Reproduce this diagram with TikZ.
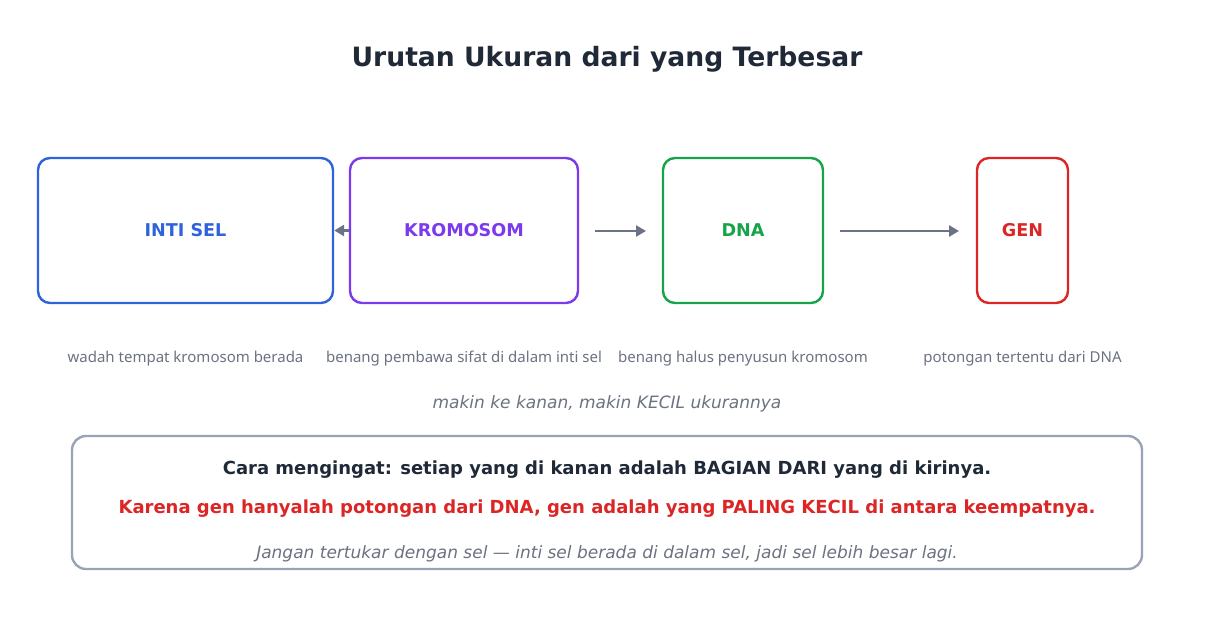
\documentclass[tikz,border=0pt]{standalone}
\usepackage{fontspec}
\setmainfont{DejaVu Sans}
\newfontfamily\capfont{Noto Sans}
\usetikzlibrary{arrows.meta}
\definecolor{cblue}{HTML}{2F63D9}
\definecolor{cpurple}{HTML}{7C3AED}
\definecolor{cgreen}{HTML}{16A34A}
\definecolor{cred}{HTML}{DC2626}
\definecolor{carrow}{HTML}{6B7285}
\definecolor{ctext}{HTML}{6B7280}
\definecolor{cdark}{HTML}{1F2937}
\definecolor{cborder}{HTML}{9AA3B5}
\tikzset{
  box/.style={draw, line width=2.4pt, rounded corners=12pt, fill=white, inner sep=0pt},
  lbl/.style={font=\fontsize{17.6}{20}\selectfont\bfseries},
  captxt/.style={font=\capfont\fontsize{15}{18}\selectfont, text=ctext},
  conn/.style={draw=carrow, line width=2.8pt, -{Triangle[length=10pt,width=11pt]}},
}
\begin{document}
\begin{tikzpicture}[x=1pt,y=-1pt]
\useasboundingbox (0,0) rectangle (1214,629);
\node[font=\fontsize{26.6}{30}\selectfont\bfseries, text=cdark] (title) at (607,59) {Urutan Ukuran dari yang Terbesar};
% boxes
\node[box, draw=cblue, minimum width=295pt, minimum height=145pt] (inti) at (185.5,230.5) {};
\node[lbl, text=cblue] at (inti) {INTI SEL};
\node[box, draw=cpurple, minimum width=228pt, minimum height=145pt] (krom) at (464,230.5) {};
\node[lbl, text=cpurple] at (krom) {KROMOSOM};
\node[box, draw=cgreen, minimum width=160pt, minimum height=145pt] (dna) at (743,230.5) {};
\node[lbl, text=cgreen] at (dna) {DNA};
\node[box, draw=cred, minimum width=91pt, minimum height=145pt] (gen) at (1022.5,230.5) {};
\node[lbl, text=cred] at (gen) {GEN};
% arrows
\draw[conn] (krom.west) -- (inti.east);
\coordinate (a1) at (595,231);
\coordinate (a2) at (646,231);
\draw[conn] (a1) -- (a2);
\coordinate (b1) at (840,231);
\coordinate (b2) at (959,231);
\draw[conn] (b1) -- (b2);
% captions
\node[captxt] (c1) at (185.5,359) {wadah tempat kromosom berada};
\node[captxt] (c2) at (464,359) {benang pembawa sifat di dalam inti sel};
\node[captxt] (c3) at (743,359) {benang halus penyusun kromosom};
\node[captxt] (c4) at (1022.5,359) {potongan tertentu dari DNA};
\node[font=\fontsize{17}{20}\selectfont\itshape, text=ctext] (note) at (607,404) {makin ke kanan, makin KECIL ukurannya};
% bottom box
\draw[draw=cborder, line width=2.4pt, rounded corners=14pt, fill=white] (72,436) rectangle (1142,569);
\node[font=\fontsize{18}{20}\selectfont\bfseries, text=cdark] (m1) at (607,469.5) {Cara mengingat: setiap yang di kanan adalah BAGIAN DARI yang di kirinya.};
\node[font=\fontsize{18}{20}\selectfont\bfseries, text=cred] (m2) at (607,508.5) {Karena gen hanyalah potongan dari DNA, gen adalah yang PALING KECIL di antara keempatnya.};
\node[font=\fontsize{17}{20}\selectfont\itshape, text=ctext] (m3) at (607,554) {Jangan tertukar dengan sel — inti sel berada di dalam sel, jadi sel lebih besar lagi.};
\end{tikzpicture}
\end{document}
